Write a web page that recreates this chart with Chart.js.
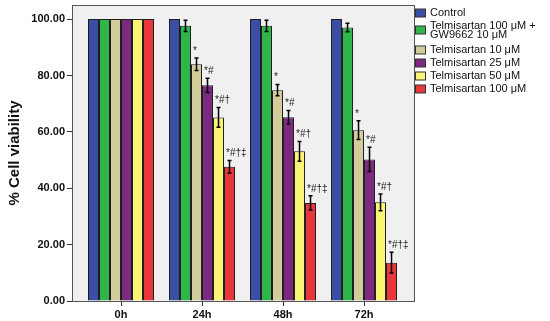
<!DOCTYPE html>
<html>
<head>
<meta charset="utf-8">
<script src="https://cdn.jsdelivr.net/npm/chart.js@4/dist/chart.umd.min.js"></script>
<style>
html,body{margin:0;padding:0;background:#fff}
#wrap{width:550px;height:321px}
</style>
</head>
<body>
<div id="wrap"><canvas id="chart"></canvas></div>
<script>

const timePoints = ['0h','24h','48h','72h']

const seriesNames = ['Control','Telmisartan 100 μM + GW9662 10 μM','Telmisartan 10 μM','Telmisartan 25 μM','Telmisartan 50 μM','Telmisartan 100 μM']
const legendLines = [['Control'],['Telmisartan 100 μM +','GW9662 10 μM'],['Telmisartan 10 μM'],['Telmisartan 25 μM'],['Telmisartan 50 μM'],['Telmisartan 100 μM']]

const control = [100,100,100,100]
const telGw = [100,97.6,97.6,97.0]
const tel10 = [100,84.0,74.8,60.6]
const tel25 = [100,76.5,65.2,50.2]
const tel50 = [100,65.1,53.1,35.0]
const tel100 = [100,47.6,34.8,13.6]

const errControl = [0,0,0,0]
const errTelGw = [0,2.0,2.0,1.5]
const errTel10 = [0,2.2,2.0,3.3]
const errTel25 = [0,2.5,2.4,4.3]
const errTel50 = [0,3.5,3.5,3.0]
const errTel100 = [0,2.2,2.5,3.7]

const markControl = ['','','','']
const markTelGw = ['','','','']
const markTel10 = ['','*','*','*']
const markTel25 = ['','*#','*#','*#']
const markTel50 = ['','*#†','*#†','*#†']
const markTel100 = ['','*#†‡','*#†‡','*#†‡']

const yTicks = [0,20,40,60,80,100]

const colors = ['#3a4ea6','#2fb54a','#d3cd9b','#7b2a80','#fbf576','#e8363c']

const allValues = [control,telGw,tel10,tel25,tel50,tel100]
const allErrors = [errControl,errTelGw,errTel10,errTel25,errTel50,errTel100]
const allMarks = [markControl,markTelGw,markTel10,markTel25,markTel50,markTel100]

const datasets = allValues.map((vals,i)=>({
label:seriesNames[i],
data:vals.map((v,j)=>({x:j,y:v})),
backgroundColor:colors[i],
borderColor:'#1e1e1e',
borderWidth:1,
categoryPercentage:0.815,
barPercentage:1,
errors:allErrors[i],
marks:allMarks[i]
}))

// plot background + frame
const frame = {
id:'frame',
beforeDatasetsDraw(chart){
const {ctx,chartArea:a} = chart
ctx.save()
ctx.fillStyle = '#f0f0f1'
ctx.fillRect(a.left,a.top,a.right-a.left,a.bottom-a.top)
ctx.restore()
},
afterDraw(chart){
const {ctx,chartArea:a} = chart
ctx.save()
ctx.strokeStyle = '#555'
ctx.lineWidth = 1
ctx.strokeRect(a.left+0.5,a.top+0.5,a.right-a.left,a.bottom-a.top)
ctx.restore()
}
}

// error bars and significance marks
const errorBars = {
id:'errorBars',
afterDatasetsDraw(chart){
const ctx = chart.ctx
const ys = chart.scales.y
ctx.save()
chart.data.datasets.forEach((ds,i)=>{
const meta = chart.getDatasetMeta(i)
meta.data.forEach((bar,j)=>{
const v = ds.data[j].y
const e = ds.errors[j]
let top = ys.getPixelForValue(v)
if(e>0){
const hi = ys.getPixelForValue(v+e)
const lo = ys.getPixelForValue(v-e)
ctx.strokeStyle = '#000'
ctx.lineWidth = 1.5
ctx.beginPath()
ctx.moveTo(bar.x,hi)
ctx.lineTo(bar.x,lo)
ctx.moveTo(bar.x-2,hi)
ctx.lineTo(bar.x+2,hi)
ctx.moveTo(bar.x-2,lo)
ctx.lineTo(bar.x+2,lo)
ctx.stroke()
top = hi
}
const m = ds.marks[j]
if(m){
ctx.fillStyle = '#222'
ctx.font = '10px "Liberation Sans", Arial, sans-serif'
ctx.textAlign = 'left'
ctx.textBaseline = 'bottom'
ctx.fillText(m,bar.x-bar.width/2+2,top-2)
}
})
})
ctx.restore()
}
}

// legend on the right
const sideLegend = {
id:'sideLegend',
afterDraw(chart){
const ctx = chart.ctx
const rows = [13,30,50,63,76,89]
ctx.save()
ctx.font = '11px "Liberation Sans", Arial, sans-serif'
ctx.textBaseline = 'middle'
ctx.textAlign = 'left'
legendLines.forEach((lines,i)=>{
const cy = rows[i]
ctx.fillStyle = colors[i]
ctx.fillRect(415.5,cy-4,10,8)
ctx.strokeStyle = '#333'
ctx.lineWidth = 1
ctx.strokeRect(415.5,cy-4,10,8)
ctx.fillStyle = '#111'
if(lines.length==1){
ctx.fillText(lines[0],430,cy)
}else{
ctx.fillText(lines[0],430,cy-4.5)
ctx.fillText(lines[1],430,cy+4.5)
}
})
ctx.restore()
}
}

new Chart(document.getElementById('chart'),{
type:'bar',
data:{datasets:datasets},
plugins:[frame,errorBars,sideLegend],
options:{
responsive:true,
maintainAspectRatio:false,
animation:false,
layout:{padding:{left:0,right:136,top:5,bottom:0}},
plugins:{legend:{display:false},tooltip:{enabled:false}},
scales:{
x:{
type:'linear',
min:-0.605,
max:3.617,
offset:false,
afterBuildTicks(scale){
scale.ticks = timePoints.map((t,i)=>({value:i}))
},
afterFit(scale){scale.height = 20;scale.paddingLeft = 0;scale.paddingRight = 0},
ticks:{
callback:(v)=>timePoints[v],
color:'#111',
font:{family:'"Liberation Sans", Arial, sans-serif',size:11,weight:'bold'},
padding:2,
maxRotation:0
},
grid:{offset:false,drawOnChartArea:false,tickLength:5,tickColor:'#333',tickWidth:1},
border:{display:true,color:'#555'}
},
y:{
min:0,
max:105,
afterBuildTicks(scale){
scale.ticks = yTicks.map(v=>({value:v}))
},
afterFit(scale){scale.width = 72;scale.paddingTop = 0;scale.paddingBottom = 0},
ticks:{
callback:(v)=>Number(v).toFixed(2),
color:'#111',
font:{family:'"Liberation Sans", Arial, sans-serif',size:11,weight:'bold'},
padding:2
},
grid:{drawOnChartArea:false,tickLength:5,tickColor:'#333',tickWidth:1},
border:{display:true,color:'#555'},
title:{
display:true,
text:'% Cell viability',
color:'#111',
font:{family:'"Liberation Sans", Arial, sans-serif',size:15,weight:'bold'},
padding:{top:6,bottom:0}
}
}
}
}
})
</script>
</body>
</html>
